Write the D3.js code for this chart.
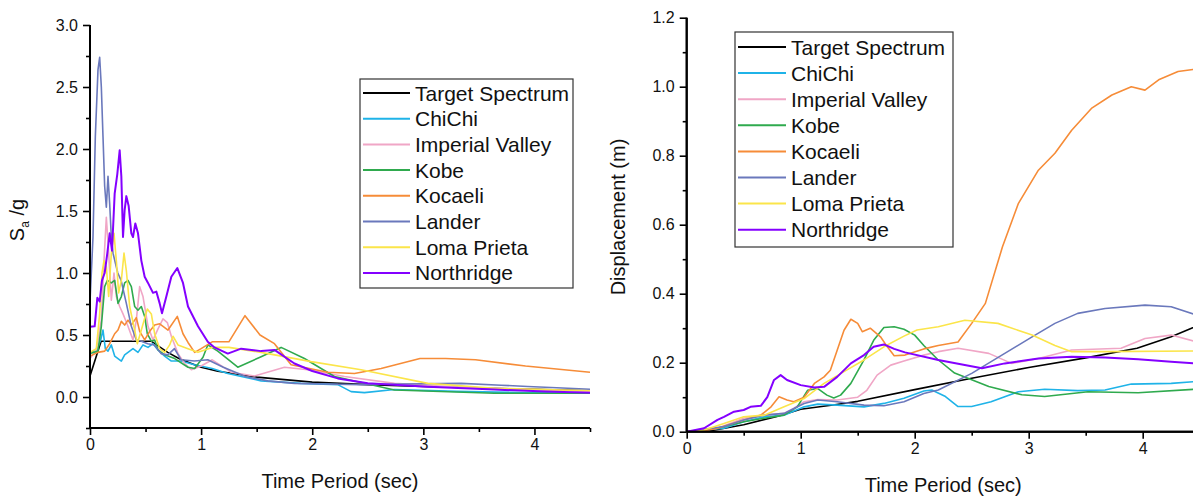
<!DOCTYPE html>
<html><head><meta charset="utf-8">
<script src="https://cdn.jsdelivr.net/npm/d3@7"></script>
<style>
html,body{margin:0;padding:0;background:#fff;overflow:hidden}
text{font-family:"Liberation Sans",Arial,sans-serif;fill:#111}
</style></head><body>
<svg id="c" width="1193" height="496"></svg>
<script>
// ---------- DATA ----------
const seriesNames = ["Target Spectrum","ChiChi","Imperial Valley","Kobe","Kocaeli","Lander","Loma Prieta","Northridge"];
const seriesColors = ["#000000","#1FB3E8","#F0A6C6","#2FAA4E","#F68C38","#6A78BC","#FBE54A","#8400FF"];

const xTicks = [0,1,2,3,4];
const saTicks = [0.0,0.5,1.0,1.5,2.0,2.5,3.0];
const dispTicks = [0.0,0.2,0.4,0.6,0.8,1.0,1.2];

// Spectral acceleration Sa/g vs period (left)
const saTarget = [[0,0.17],[0.1,0.45],[0.55,0.45],[0.6,0.42],[0.7,0.36],[0.8,0.31],[0.9,0.275],[1.0,0.24],[1.15,0.208],[1.5,0.16],[2.0,0.12],[2.5,0.1],[3.0,0.085],[3.5,0.072],[4.0,0.062],[4.5,0.05]];
const saChiChi = [[0,0.36],[0.057,0.37],[0.096,0.46],[0.117,0.54],[0.138,0.39],[0.162,0.37],[0.192,0.42],[0.222,0.33],[0.252,0.31],[0.282,0.29],[0.312,0.34],[0.342,0.36],[0.387,0.39],[0.432,0.36],[0.477,0.42],[0.522,0.40],[0.567,0.43],[0.612,0.38],[0.672,0.33],[0.732,0.29],[0.82,0.29],[0.94,0.26],[1.1,0.23],[1.24,0.19],[1.54,0.13],[1.9,0.11],[2.23,0.1],[2.35,0.043],[2.47,0.035],[2.74,0.06],[3.3,0.045],[3.9,0.035],[4.5,0.03]];
const saImperial = [[0,0.31],[0.057,0.38],[0.102,0.62],[0.126,1.1],[0.147,1.45],[0.168,1.16],[0.192,0.78],[0.216,1.0],[0.237,0.81],[0.267,0.73],[0.297,0.67],[0.342,0.57],[0.387,0.46],[0.417,0.62],[0.447,0.89],[0.477,0.81],[0.522,0.57],[0.567,0.46],[0.612,0.55],[0.657,0.63],[0.696,0.6],[0.732,0.49],[0.792,0.35],[0.852,0.27],[0.912,0.22],[1.0,0.25],[1.1,0.30],[1.27,0.2],[1.48,0.17],[1.75,0.24],[1.96,0.22],[2.29,0.165],[2.74,0.11],[3.3,0.08],[3.9,0.063],[4.5,0.045]];
const saKobe = [[0,0.35],[0.072,0.37],[0.102,0.57],[0.132,0.89],[0.156,0.94],[0.192,0.92],[0.222,0.94],[0.252,0.755],[0.282,0.81],[0.312,0.92],[0.342,0.94],[0.372,0.89],[0.402,0.73],[0.432,0.7],[0.462,0.73],[0.492,0.65],[0.516,0.51],[0.552,0.45],[0.582,0.46],[0.612,0.38],[0.672,0.34],[0.762,0.31],[0.882,0.24],[0.942,0.23],[1.017,0.32],[1.06,0.42],[1.15,0.37],[1.33,0.24],[1.54,0.325],[1.72,0.40],[1.93,0.31],[2.2,0.165],[2.74,0.056],[3.64,0.03],[4.5,0.03]];
const saKocaeli = [[0,0.33],[0.072,0.36],[0.132,0.37],[0.177,0.43],[0.222,0.51],[0.252,0.54],[0.282,0.61],[0.312,0.58],[0.342,0.62],[0.372,0.58],[0.417,0.64],[0.447,0.53],[0.492,0.46],[0.537,0.53],[0.582,0.58],[0.627,0.59],[0.702,0.54],[0.786,0.65],[0.837,0.51],[0.882,0.44],[0.942,0.36],[1.0,0.39],[1.1,0.445],[1.25,0.445],[1.395,0.656],[1.53,0.5],[1.66,0.43],[1.81,0.26],[2.14,0.2],[2.38,0.19],[2.62,0.23],[2.97,0.31],[3.2,0.31],[3.47,0.3],[3.92,0.25],[4.5,0.2]];
const saLander = [[0,0.77],[0.027,1.29],[0.048,2.1],[0.072,2.64],[0.087,2.74],[0.102,2.5],[0.117,2.1],[0.132,1.7],[0.147,1.53],[0.162,1.78],[0.177,1.56],[0.192,1.29],[0.207,1.16],[0.25,1.0],[0.28,0.94],[0.327,0.755],[0.372,0.57],[0.417,0.46],[0.462,0.45],[0.52,0.43],[0.58,0.42],[0.64,0.35],[0.70,0.34],[0.76,0.39],[0.82,0.30],[0.94,0.29],[1.06,0.30],[1.2,0.24],[1.4,0.165],[1.6,0.13],[1.84,0.11],[2.1,0.105],[2.44,0.10],[2.8,0.105],[3.34,0.11],[3.7,0.095],[3.94,0.085],[4.2,0.075],[4.5,0.062]];
const saLoma = [[0,0.36],[0.057,0.39],[0.087,0.67],[0.108,1.0],[0.126,1.1],[0.147,1.05],[0.168,0.81],[0.192,1.16],[0.216,1.32],[0.237,1.1],[0.258,0.84],[0.282,0.94],[0.306,1.16],[0.327,1.02],[0.357,0.73],[0.402,0.54],[0.426,0.43],[0.462,0.54],[0.516,0.71],[0.552,0.67],[0.582,0.51],[0.627,0.39],[0.672,0.36],[0.717,0.42],[0.747,0.49],[0.792,0.42],[0.882,0.39],[0.972,0.36],[1.1,0.4],[1.25,0.4],[1.54,0.36],[1.99,0.285],[2.44,0.22],[3.04,0.11],[3.64,0.07],[4.5,0.05]];
const saNorthridge = [[0,0.567],[0.042,0.57],[0.066,0.8],[0.087,0.77],[0.108,0.94],[0.132,1.0],[0.156,1.16],[0.177,1.32],[0.198,1.18],[0.222,1.64],[0.246,1.8],[0.267,1.99],[0.282,1.78],[0.297,1.29],[0.312,1.51],[0.327,1.62],[0.348,1.54],[0.372,1.32],[0.387,1.29],[0.408,1.4],[0.432,1.32],[0.462,1.1],[0.492,0.97],[0.522,0.92],[0.567,0.84],[0.597,0.85],[0.627,0.755],[0.648,0.675],[0.687,0.81],[0.732,0.97],[0.786,1.04],[0.837,0.92],[0.882,0.73],[0.972,0.57],[1.06,0.445],[1.12,0.4],[1.24,0.35],[1.36,0.39],[1.54,0.37],[1.66,0.38],[1.84,0.27],[2.0,0.21],[2.23,0.15],[2.5,0.11],[3.04,0.083],[3.64,0.06],[4.1,0.045],[4.5,0.035]];

// Spectral displacement (m) vs period (right)
const sdTarget = [[0,0],[0.2,0.002],[0.5,0.02],[0.8,0.045],[1.0,0.065],[1.3,0.078],[1.5,0.088],[2.0,0.122],[2.5,0.155],[3.0,0.186],[3.5,0.214],[3.95,0.242],[4.25,0.275],[4.5,0.31]];
const sdChiChi = [[0,0],[0.327,0.01],[0.5,0.029],[0.68,0.043],[0.854,0.048],[1.03,0.072],[1.15,0.08],[1.32,0.077],[1.555,0.072],[1.73,0.082],[1.906,0.097],[2.08,0.118],[2.15,0.121],[2.27,0.102],[2.38,0.073],[2.5,0.073],[2.67,0.087],[2.91,0.116],[3.14,0.123],[3.43,0.119],[3.67,0.121],[3.9,0.138],[4.25,0.14],[4.5,0.146]];
const sdImperial = [[0,0],[0.27,0.01],[0.5,0.039],[0.68,0.048],[0.854,0.053],[0.94,0.068],[1.03,0.087],[1.15,0.093],[1.32,0.092],[1.5,0.1],[1.58,0.12],[1.67,0.164],[1.79,0.193],[1.906,0.205],[2.08,0.222],[2.207,0.232],[2.38,0.242],[2.65,0.227],[2.85,0.198],[3.085,0.212],[3.377,0.237],[3.81,0.242],[4.02,0.27],[4.25,0.28],[4.5,0.258]];
const sdKobe = [[0,0],[0.27,0.01],[0.5,0.029],[0.68,0.039],[0.854,0.048],[0.97,0.072],[1.06,0.12],[1.15,0.125],[1.23,0.106],[1.29,0.098],[1.35,0.106],[1.44,0.14],[1.555,0.208],[1.64,0.265],[1.73,0.302],[1.82,0.304],[1.906,0.297],[2.0,0.28],[2.08,0.25],[2.2,0.21],[2.35,0.17],[2.65,0.131],[2.94,0.107],[3.14,0.102],[3.52,0.116],[3.96,0.113],[4.5,0.124]];
const sdKocaeli = [[0,0],[0.15,0.002],[0.27,0.01],[0.5,0.034],[0.65,0.048],[0.74,0.072],[0.81,0.101],[0.88,0.092],[0.94,0.087],[1.03,0.1],[1.12,0.14],[1.205,0.159],[1.26,0.178],[1.32,0.236],[1.38,0.294],[1.44,0.326],[1.5,0.314],[1.54,0.29],[1.61,0.3],[1.7,0.275],[1.76,0.246],[1.82,0.22],[1.915,0.222],[2.08,0.24],[2.207,0.25],[2.38,0.26],[2.5,0.314],[2.62,0.372],[2.77,0.536],[2.91,0.662],[3.085,0.758],[3.23,0.807],[3.377,0.874],[3.55,0.937],[3.73,0.976],[3.9,1.0],[4.02,0.99],[4.14,1.02],[4.31,1.044],[4.44,1.05],[4.5,1.052]];
const sdLander = [[0,0],[0.327,0.015],[0.5,0.034],[0.68,0.048],[0.854,0.053],[1.03,0.082],[1.15,0.092],[1.32,0.087],[1.555,0.077],[1.73,0.075],[1.906,0.087],[2.08,0.111],[2.207,0.121],[2.5,0.169],[2.79,0.227],[3.03,0.275],[3.23,0.314],[3.43,0.343],[3.67,0.357],[4.02,0.367],[4.25,0.362],[4.5,0.335]];
const sdLoma = [[0,0],[0.152,0.005],[0.327,0.024],[0.5,0.043],[0.68,0.048],[0.854,0.072],[1.03,0.096],[1.205,0.14],[1.38,0.174],[1.555,0.208],[1.73,0.246],[1.906,0.277],[2.02,0.295],[2.207,0.304],[2.44,0.323],[2.73,0.314],[3.03,0.28],[3.23,0.25],[3.377,0.232],[3.67,0.232],[4.5,0.234]];
const sdNorthridge = [[0,0],[0.152,0.01],[0.27,0.034],[0.327,0.043],[0.415,0.058],[0.5,0.063],[0.56,0.072],[0.65,0.075],[0.707,0.1],[0.766,0.15],[0.824,0.164],[0.88,0.15],[1.0,0.135],[1.12,0.128],[1.205,0.13],[1.32,0.159],[1.44,0.198],[1.555,0.222],[1.64,0.246],[1.73,0.253],[1.82,0.24],[1.915,0.23],[2.207,0.208],[2.59,0.184],[2.79,0.198],[3.085,0.212],[3.377,0.217],[3.67,0.215],[3.96,0.21],[4.25,0.203],[4.5,0.197]];

const saSeries = [saTarget,saChiChi,saImperial,saKobe,saKocaeli,saLander,saLoma,saNorthridge];
const sdSeries = [sdTarget,sdChiChi,sdImperial,sdKobe,sdKocaeli,sdLander,sdLoma,sdNorthridge];

// ---------- DRAW ----------
const svg = d3.select("#c");
const FONT_TICK = 16, FONT_TITLE = 20, FONT_LEG = 21;

function panel(opt){
  const g = svg.append("g");
  const x = d3.scaleLinear().domain([0,4.5]).range(opt.xr);
  const y = d3.scaleLinear().domain(opt.yd).range(opt.yr);
  const clipId = "clip"+opt.id;
  svg.append("clipPath").attr("id",clipId).append("rect")
    .attr("x",opt.xr[0]).attr("y",opt.yr[1]-2).attr("width",opt.xr[1]-opt.xr[0]).attr("height",opt.yr[0]-opt.yr[1]+2);
  const line = d3.line().x(d=>x(d[0])).y(d=>y(d[1]));
  const lg = g.append("g").attr("clip-path",`url(#${clipId})`);
  opt.series.forEach((s,i)=>{
    lg.append("path").datum(s).attr("d",line).attr("fill","none")
      .attr("stroke",seriesColors[i]).attr("stroke-width", i===7?2:1.6)
      .attr("stroke-linejoin","round");
  });
  // axes
  const xMinor = d3.range(0.5,4.6,1);
  const ax = g.append("g").attr("transform",`translate(0,${opt.yr[0]})`);
  ax.call(d3.axisBottom(x).tickValues(xTicks).tickFormat(d3.format("d")).tickSize(7).tickPadding(4));
  ax.append("g").call(d3.axisBottom(x).tickValues(xMinor).tickFormat("").tickSize(4));
  const ay = g.append("g").attr("transform",`translate(${opt.xr[0]},0)`);
  ay.call(d3.axisLeft(y).tickValues(opt.yTicks).tickFormat(d3.format(".1f")).tickSize(7).tickPadding(5));
  ay.append("g").call(d3.axisLeft(y).tickValues(opt.yMinor).tickFormat("").tickSize(4));
  g.selectAll(".domain").attr("stroke","#000").attr("stroke-width",2);
  g.selectAll(".tick line").attr("stroke","#000").attr("stroke-width",1.6);
  g.selectAll(".tick text").attr("font-size",FONT_TICK).style("font-family","'Liberation Sans',Arial,sans-serif").attr("fill","#111");
  ax.selectAll("path.domain").attr("d",`M${opt.xr[0]},0H${opt.xr[1]}`);
  ay.selectAll("path.domain").attr("d",`M0,${opt.yr[0]}V${opt.yr[1]}`);
  // x title
  g.append("text").attr("x",(opt.xr[0]+opt.xr[1])/2).attr("y",opt.xtY)
    .attr("text-anchor","middle").attr("font-size",FONT_TITLE).text("Time Period (sec)");
  // legend
  const L = opt.leg;
  g.append("rect").attr("x",L.x).attr("y",L.y).attr("width",L.w).attr("height",L.h)
    .attr("fill","#fff").attr("stroke","#333").attr("stroke-width",1.2);
  seriesNames.forEach((n,i)=>{
    const yy = L.row0 + i*L.dy;
    g.append("line").attr("x1",L.x+3).attr("x2",L.x+3+L.lw).attr("y1",yy).attr("y2",yy)
      .attr("stroke",seriesColors[i]).attr("stroke-width",2);
    g.append("text").attr("x",L.x+L.lw+8).attr("y",yy).attr("dy","0.36em")
      .attr("font-size",FONT_LEG).text(n);
  });
  return g;
}

panel({id:"L", xr:[90,590], yd:[-0.25,3.0], yr:[428,25], yTicks:saTicks,
  yMinor:d3.range(-0.25,3.0,0.5), series:saSeries, xtY:488,
  leg:{x:360,y:79,w:213,h:209,row0:93,dy:25.7,lw:47}});
panel({id:"R", xr:[686.7,1199.7], yd:[0,1.2], yr:[431.7,17.7], yTicks:dispTicks,
  yMinor:d3.range(0.1,1.2,0.2), series:sdSeries, xtY:492,
  leg:{x:735,y:32,w:218,h:215,row0:47,dy:26.1,lw:48}});

// y titles
const yt1 = svg.append("text").attr("transform","translate(24,220) rotate(-90)")
  .attr("text-anchor","middle").attr("font-size",FONT_TITLE);
yt1.append("tspan").text("S");
yt1.append("tspan").attr("font-size",12).attr("dy",5).text("a");
yt1.append("tspan").attr("dy",-5).text(" /g");
svg.append("text").attr("transform","translate(625,217) rotate(-90)")
  .attr("text-anchor","middle").attr("font-size",FONT_TITLE).text("Displacement (m)");
</script>
</body></html>
